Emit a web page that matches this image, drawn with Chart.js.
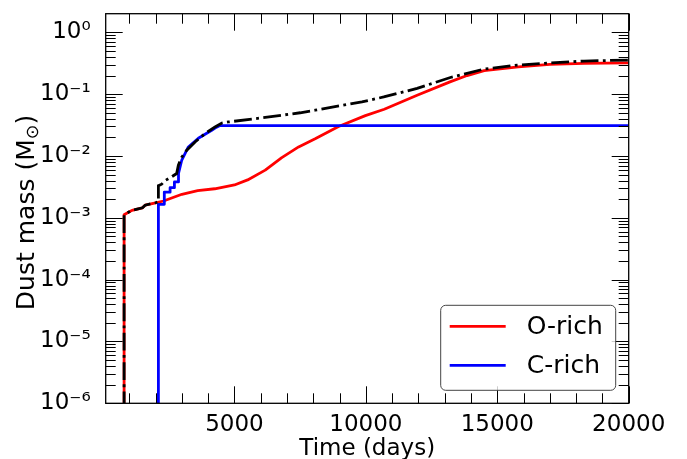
<!DOCTYPE html>
<html><head><meta charset="utf-8">
<script src="https://cdn.jsdelivr.net/npm/chart.js@4.4.1/dist/chart.umd.min.js"></script>
<style>html,body{margin:0;padding:0;background:#fff;}canvas{display:block;}</style>
</head><body>
<canvas id="c" width="687" height="459"></canvas>
<script>
// ---- data ----
const oRichDays = [800, 800, 1000, 1100, 1500, 1600, 2000, 2300, 3000, 3600, 4250, 5000, 5500, 6170, 6800, 7440, 8070, 8960, 9980, 10700, 11950, 13200, 13850, 14500, 15800, 17000, 18300, 20000];
const oRichMass = [1e-8, 1.12e-3, 1.25e-3, 1.32e-3, 1.45e-3, 1.6e-3, 1.75e-3, 1.87e-3, 2.4e-3, 2.75e-3, 2.95e-3, 3.4e-3, 4.1e-3, 5.9e-3, 9.4e-3, 0.014, 0.019, 0.030, 0.045, 0.057, 0.096, 0.158, 0.20, 0.24, 0.277, 0.303, 0.314, 0.32];

const cRichDays = [2105, 2105, 2330, 2330, 2550, 2550, 2715, 2715, 2870, 2870, 2995, 3245, 3625, 4135, 4300, 4450, 20000];
const cRichMass = [1e-8, 1.65e-3, 1.65e-3, 2.6e-3, 2.6e-3, 3.07e-3, 3.07e-3, 3.8e-3, 3.8e-3, 5.2e-3, 8.6e-3, 0.014, 0.0193, 0.026, 0.029, 0.031, 0.031];

const totalDays = [800, 800, 1000, 1100, 1500, 1600, 2000, 2105, 2105, 2230, 2360, 2610, 2800, 2865, 2995, 3185, 3500, 3880, 4260, 4520, 4770, 6170, 7500, 8070, 9850, 10680, 11950, 13215, 14490, 15760, 17030, 18300, 20000];
const totalMass = [1e-8, 1.12e-3, 1.25e-3, 1.32e-3, 1.45e-3, 1.6e-3, 1.75e-3, 1.82e-3, 3.3e-3, 3.5e-3, 4.0e-3, 4.6e-3, 5.2e-3, 7.1e-3, 9.6e-3, 0.0124, 0.0168, 0.023, 0.0295, 0.034, 0.0355, 0.042, 0.050, 0.055, 0.075, 0.090, 0.124, 0.186, 0.254, 0.295, 0.32, 0.343, 0.356];

const seriesLabels = ['O-rich', 'C-rich', 'Total'];
const xTickValues = [5000, 10000, 15000, 20000];
const xTickLabels = ['5000', '10000', '15000', '20000'];
const yTickValues = [1e-6, 1e-5, 1e-4, 1e-3, 1e-2, 1e-1, 1];
const yTickLabels = ['10\u207B\u2076', '10\u207B\u2075', '10\u207B\u2074', '10\u207B\u00B3', '10\u207B\u00B2', '10\u207B\u00B9', '10\u2070'];
const xTitle = 'Time (days)';
const yTitleMain = 'Dust mass (M';
const yTitleSub = '\u2299';
const yTitleEnd = ')';

// ---- rendering ----
const FONT = '"DejaVu Sans", "Liberation Sans", sans-serif';
Chart.defaults.font.family = FONT;
Chart.defaults.color = '#000';

function pts(xs, ys) { return xs.map((d, i) => ({x: d, y: ys[i]})); }

const frameTicks = {
  id: 'frameTicks',
  afterDatasetsDraw(chart) {
    const {ctx, chartArea: a, scales: {x, y}} = chart;
    ctx.save();
    ctx.strokeStyle = '#000';
    ctx.lineWidth = 1;
    const MAJ = 17, MIN = 10;
    ctx.beginPath();
    for (let v = 1000; v <= x.max; v += 1000) {
      if (v < x.min) continue;
      const px = Math.round(x.getPixelForValue(v)) + 0.5;
      const len = (v % 5000 === 0) ? MAJ : MIN;
      ctx.moveTo(px, a.bottom); ctx.lineTo(px, a.bottom - len);
      ctx.moveTo(px, a.top); ctx.lineTo(px, a.top + len);
    }
    for (let e = -6; e <= 0; e++) {
      for (let m = 1; m <= 9; m++) {
        const v = m * Math.pow(10, e);
        if (v < y.min * 0.999 || v >= y.max) continue;
        const py = Math.round(y.getPixelForValue(v)) + 0.5;
        const len = (m === 1) ? MAJ : MIN;
        ctx.moveTo(a.left, py); ctx.lineTo(a.left + len, py);
        ctx.moveTo(a.right, py); ctx.lineTo(a.right - len, py);
      }
    }
    ctx.stroke();
    ctx.lineWidth = 1.3;
    ctx.strokeRect(a.left, a.top, a.right - a.left, a.bottom - a.top);
    ctx.restore();
  },
  afterDraw(chart) {
    const {ctx, chartArea: a} = chart;
    // y-axis title with subscript sun symbol
    ctx.save();
    const fs = 25;
    ctx.translate(33.5, (a.top + a.bottom) / 2 + 4);
    ctx.rotate(-Math.PI / 2);
    ctx.textBaseline = 'alphabetic';
    ctx.textAlign = 'left';
    ctx.fillStyle = '#000';
    ctx.font = fs + 'px ' + FONT;
    const w1 = ctx.measureText(yTitleMain).width;
    const w3 = ctx.measureText(yTitleEnd).width;
    ctx.font = (fs * 0.7) + 'px ' + FONT;
    const w2 = ctx.measureText(yTitleSub).width;
    const total = w1 + w2 + w3;
    let cx = -total / 2;
    ctx.font = fs + 'px ' + FONT;
    ctx.fillText(yTitleMain, cx, 0); cx += w1;
    ctx.font = (fs * 0.7) + 'px ' + FONT;
    ctx.fillText(yTitleSub, cx, 4); cx += w2;
    ctx.font = fs + 'px ' + FONT;
    ctx.fillText(yTitleEnd, cx, 0);
    ctx.restore();

    // legend
    const w = 175, h = 85;
    const bx = a.right - 13 - w, by = a.bottom - 13 - h, r = 5;
    ctx.save();
    ctx.beginPath();
    ctx.moveTo(bx + r, by);
    ctx.lineTo(bx + w - r, by); ctx.arcTo(bx + w, by, bx + w, by + r, r);
    ctx.lineTo(bx + w, by + h - r); ctx.arcTo(bx + w, by + h, bx + w - r, by + h, r);
    ctx.lineTo(bx + r, by + h); ctx.arcTo(bx, by + h, bx, by + h - r, r);
    ctx.lineTo(bx, by + r); ctx.arcTo(bx, by, bx + r, by, r);
    ctx.closePath();
    ctx.fillStyle = 'rgba(255,255,255,0.8)';
    ctx.fill();
    ctx.strokeStyle = '#444';
    ctx.lineWidth = 1;
    ctx.stroke();
    ctx.font = '25px ' + FONT;
    ctx.textBaseline = 'middle';
    ctx.textAlign = 'left';
    ctx.fillStyle = '#000';
    const shown = chart.data.datasets.filter(ds => ds.inLegend);
    shown.forEach((ds, i) => {
      const ly = by + 21 + i * 39;
      ctx.strokeStyle = ds.borderColor;
      ctx.lineWidth = ds.borderWidth;
      ctx.beginPath(); ctx.moveTo(bx + 9, ly); ctx.lineTo(bx + 65, ly); ctx.stroke();
      ctx.fillText(ds.label, bx + 86, ly + 1);
    });
    ctx.restore();
  }
};

new Chart(document.getElementById('c'), {
  type: 'line',
  data: {
    datasets: [
      {label: seriesLabels[0], data: pts(oRichDays, oRichMass), borderColor: '#ff0000', borderWidth: 2.8, pointRadius: 0, tension: 0, order: 2, inLegend: true, borderJoinStyle: 'round'},
      {label: seriesLabels[1], data: pts(cRichDays, cRichMass), borderColor: '#0000ff', borderWidth: 2.8, pointRadius: 0, tension: 0, order: 1, inLegend: true, borderJoinStyle: 'round'},
      {label: seriesLabels[2], data: pts(totalDays, totalMass), borderColor: '#000000', borderWidth: 2.8, borderDash: [17.8, 4.4, 2.8, 4.4], pointRadius: 0, tension: 0, order: 0, inLegend: false}
    ]
  },
  options: {
    responsive: false,
    animation: false,
    devicePixelRatio: 1,
    layout: {padding: {left: 0, top: 13.7, right: 58.3, bottom: 0}},
    plugins: {legend: {display: false}, tooltip: {enabled: false}},
    scales: {
      x: {
        type: 'linear', min: 100, max: 20000,
        grid: {display: false}, border: {display: false},
        afterBuildTicks(s) { s.ticks = xTickValues.map(v => ({value: v})); },
        afterFit(s) { s.height = 55.7; s.paddingLeft = 0; s.paddingRight = 0; },
        ticks: {autoSkip: false, maxRotation: 0, padding: 0, font: {size: 23}, color: '#000',
          callback: (v, i) => xTickLabels[i]},
        title: {display: true, text: xTitle, font: {size: 23, lineHeight: 0.9}, padding: {top: 0, bottom: 0}, color: '#000'}
      },
      y: {
        type: 'logarithmic', min: 1e-6, max: 2,
        grid: {display: false}, border: {display: false},
        afterBuildTicks(s) { s.ticks = yTickValues.map(v => ({value: v})); },
        afterFit(s) { s.width = 105.7; s.paddingTop = 0; s.paddingBottom = 0; },
        ticks: {autoSkip: false, padding: 7, font: {size: 23}, color: '#000',
          callback: (v, i) => yTickLabels[i]},
        title: {display: false}
      }
    }
  },
  plugins: [frameTicks]
});
</script>
</body></html>
